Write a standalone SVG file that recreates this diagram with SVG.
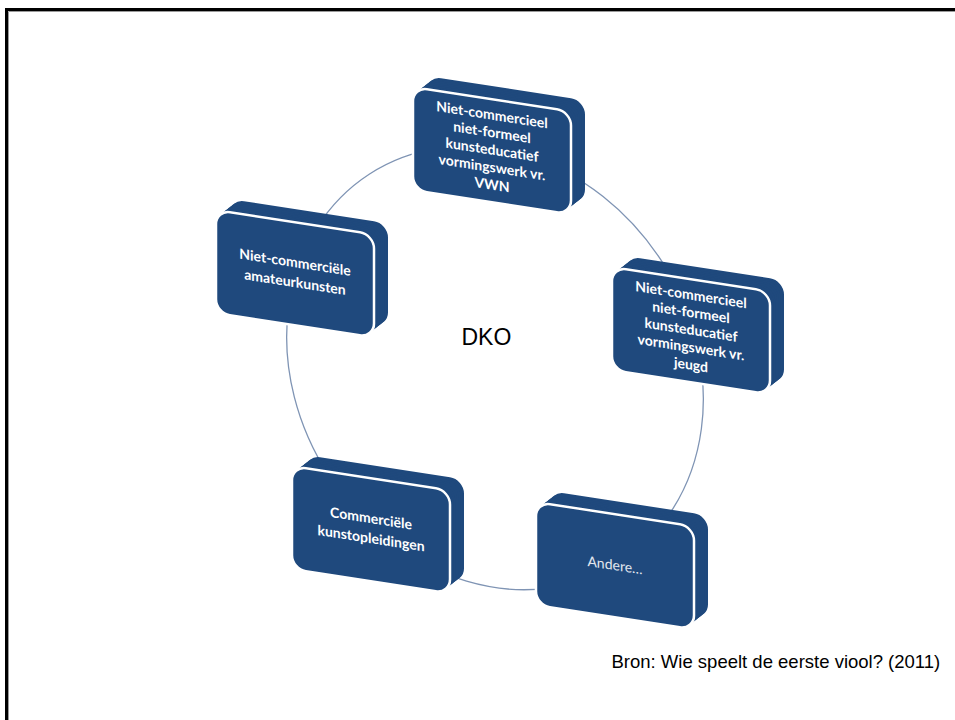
<svg xmlns="http://www.w3.org/2000/svg" xmlns:xlink="http://www.w3.org/1999/xlink" width="955" height="720" viewBox="0 0 955 720">
  <style>
    .ring { fill: none; stroke: #7f94b4; stroke-width: 1.3; }
    .face { fill: #1f497d; }
    .front { fill: #1f497d; stroke: #ffffff; stroke-width: 2.5; }
    .lbl { font-family: Lato, "Open Sans", "Liberation Sans", sans-serif; font-weight: bold; font-size: 14px; fill: #ffffff; text-anchor: middle; }
    .lbl2 { font-family: Lato, "Open Sans", "Liberation Sans", sans-serif; font-weight: normal; font-size: 14px; fill: #e4e8ef; text-anchor: middle; }
    .plain { font-family: "Liberation Sans", Arial, sans-serif; fill: #000000; }
  </style>
  <defs>
    <rect id="face" class="face" width="158" height="103" rx="14" ry="14"/>
    <g id="block">
      <use xlink:href="#face" x="14" y="-13.2"/>
      <use xlink:href="#face" x="12.25" y="-11.55"/>
      <use xlink:href="#face" x="10.5" y="-9.9"/>
      <use xlink:href="#face" x="8.75" y="-8.25"/>
      <use xlink:href="#face" x="7" y="-6.6"/>
      <use xlink:href="#face" x="5.25" y="-4.95"/>
      <use xlink:href="#face" x="3.5" y="-3.3"/>
      <use xlink:href="#face" x="1.75" y="-1.65"/>
      <rect class="front" width="158" height="103" rx="14" ry="14"/>
    </g>
  </defs>

  <rect x="0" y="0" width="955" height="720" fill="#ffffff"/>

  <g id="frame">
    <path d="M6.5 720 V9.5 H955" fill="none" stroke="#000000" stroke-width="3"/>
    <path d="M8.5 720 V11.5 H955" fill="none" stroke="#9a9a9a" stroke-width="1"/>
  </g>

  <g id="connectors">
    <ellipse class="ring" cx="495" cy="368" rx="231" ry="198" transform="rotate(57 495 368)"/>
  </g>

  <g id="center-label">
    <text class="plain" x="461.5" y="345" font-size="23">DKO</text>
  </g>

  <g id="node-vwn" transform="translate(413,87) skewY(8.8)">
    <use xlink:href="#block"/>
    <text class="lbl" x="79" y="20.5">Niet-commercieel</text>
    <text class="lbl" x="79" y="38">niet-formeel</text>
    <text class="lbl" x="79" y="55.5">kunsteducatief</text>
    <text class="lbl" x="79" y="73">vormingswerk vr.</text>
    <text class="lbl" x="79" y="90.5">VWN</text>
  </g>

  <g id="node-jeugd" transform="translate(612,267) skewY(8.8)">
    <use xlink:href="#block"/>
    <text class="lbl" x="79" y="20.5">Niet-commercieel</text>
    <text class="lbl" x="79" y="38">niet-formeel</text>
    <text class="lbl" x="79" y="55.5">kunsteducatief</text>
    <text class="lbl" x="79" y="73">vormingswerk vr.</text>
    <text class="lbl" x="79" y="90.5">jeugd</text>
  </g>

  <g id="node-andere" transform="translate(536,502) skewY(8.8)">
    <use xlink:href="#block"/>
    <text class="lbl2" x="79" y="56">Andere…</text>
  </g>

  <g id="node-commercieel" transform="translate(292,466) skewY(8.8)">
    <use xlink:href="#block"/>
    <text class="lbl" x="79" y="45">Commerciële</text>
    <text class="lbl" x="79" y="65">kunstopleidingen</text>
  </g>

  <g id="node-amateur" transform="translate(216,210) skewY(8.8)">
    <use xlink:href="#block"/>
    <text class="lbl" x="79" y="45">Niet-commerciële</text>
    <text class="lbl" x="79" y="65">amateurkunsten</text>
  </g>

  <g id="source">
    <text class="plain" x="611.5" y="668" font-size="18.5">Bron: Wie speelt de eerste viool? (2011)</text>
  </g>
</svg>
